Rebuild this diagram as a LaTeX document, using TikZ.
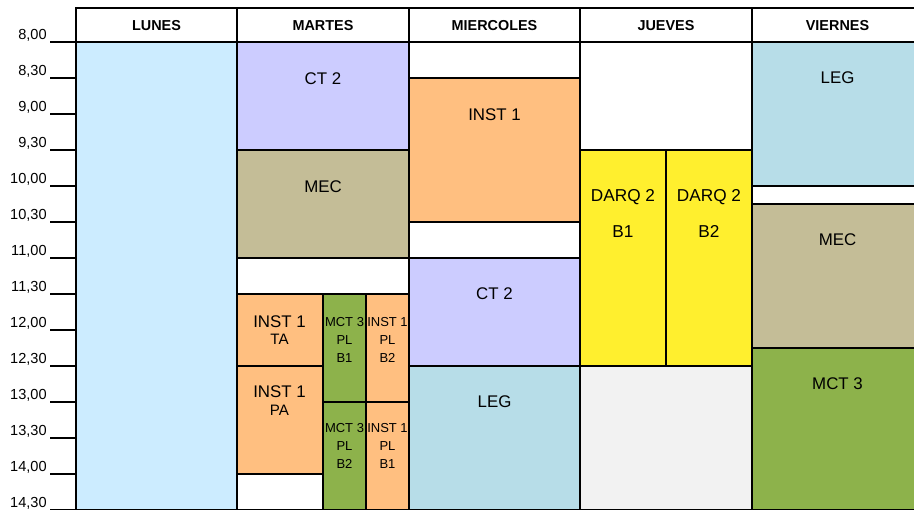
\documentclass[tikz,border=0pt]{standalone}
\usepackage{fontspec}
\setmainfont{Liberation Sans}

\definecolor{lunes}{HTML}{CCECFF}
\definecolor{lila}{HTML}{CCCCFF}
\definecolor{tostado}{HTML}{C4BD97}
\definecolor{naranja}{HTML}{FFBF80}
\definecolor{verde}{HTML}{8DB24B}
\definecolor{celeste}{HTML}{B7DDE8}
\definecolor{amarillo}{HTML}{FFEF2E}
\definecolor{gris}{HTML}{F2F2F2}

\tikzset{
  celda/.style={draw=black, line width=1.1pt},
  dia/.style={font=\bfseries\fontsize{8.2}{10}\selectfont, inner sep=0pt},
  hora/.style={font=\fontsize{8.3}{10}\selectfont, anchor=base east, inner sep=0pt},
  texto/.style={font=\fontsize{9.6}{11}\selectfont, inner sep=0pt},
  sub/.style={font=\fontsize{8.6}{10}\selectfont, inner sep=0pt},
  chico/.style={font=\fontsize{7.4}{10.2}\selectfont, align=center, inner sep=0pt},
  darq/.style={font=\fontsize{9.8}{21}\selectfont, align=center, inner sep=0pt}
}

\begin{document}
\begin{tikzpicture}[x=0.02cm, y=-0.02cm]
\useasboundingbox (0,0) rectangle (914,510);
\clip (0,0) rectangle (914,510);

% encabezado
\draw[celda] (76,8) rectangle (923,42);
\foreach \x in {237,409,580,752}
  \draw[celda] (\x,8) -- (\x,42);
\node[dia] (lun) at (156.5,26) {LUNES};
\node[dia] (mar) at (323,26) {MARTES};
\node[dia] (mie) at (494.5,26) {MIERCOLES};
\node[dia] (jue) at (666,26) {JUEVES};
\node[dia] (vie) at (837.5,26) {VIERNES};

% columnas
\draw[celda, fill=white] (76,42) rectangle (923,510);
\draw[celda, fill=lunes] (76,42) rectangle (237,510);
\foreach \x in {409,580,752}
  \draw[celda] (\x,42) -- (\x,510);

% martes
\draw[celda, fill=lila] (237,42) rectangle (409,150);
\draw[celda, fill=tostado] (237,150) rectangle (409,258);
\draw[celda, fill=naranja] (237,294) rectangle (323,366);
\draw[celda, fill=naranja] (237,366) rectangle (323,474);
\draw[celda, fill=verde] (323,294) rectangle (366,402);
\draw[celda, fill=verde] (323,402) rectangle (366,510);
\draw[celda, fill=naranja] (366,294) rectangle (409,402);
\draw[celda, fill=naranja] (366,402) rectangle (409,510);
\node[texto] (ctmar) at (323,79) {CT 2};
\node[texto] (mecmar) at (323,187) {MEC};
\node[texto] (instta) at (279.5,322) {INST 1};
\node[sub] (ta) at (279.5,339) {TA};
\node[texto] (instpa) at (279.5,392) {INST 1};
\node[sub] (pa) at (279.5,410) {PA};
\node[chico] (mctbi) at (344.5,340) {MCT 3\\PL\\B1};
\node[chico] (instbii) at (387.5,340) {INST 1\\PL\\B2};
\node[chico] (mctbii) at (344.5,446) {MCT 3\\PL\\B2};
\node[chico] (instbi) at (387.5,446) {INST 1\\PL\\B1};

% miercoles
\draw[celda, fill=naranja] (409,78) rectangle (580,222);
\draw[celda, fill=lila] (409,258) rectangle (580,366);
\draw[celda, fill=celeste] (409,366) rectangle (580,510);
\node[texto] (instmie) at (494.5,115) {INST 1};
\node[texto] (ctmie) at (494.5,294) {CT 2};
\node[texto] (legmie) at (494.5,402) {LEG};

% jueves
\draw[celda, fill=amarillo] (580,150) rectangle (666,366);
\draw[celda, fill=amarillo] (666,150) rectangle (752,366);
\draw[celda, fill=gris] (580,366) rectangle (752,510);
\node[darq] (darqbi) at (623,213.5) {DARQ 2\\B1};
\node[darq] (darqbii) at (709,213.5) {DARQ 2\\B2};

% viernes
\draw[celda, fill=celeste] (752,42) rectangle (923,186);
\draw[celda, fill=tostado] (752,204) rectangle (923,348);
\draw[celda, fill=verde] (752,348) rectangle (923,510);
\node[texto] (legvie) at (837.5,78) {LEG};
\node[texto] (mecvie) at (837.5,240) {MEC};
\node[texto] (mctvie) at (837.5,384) {MCT 3};

% horas
\foreach \h/\m [count=\k from 0] in {8/00,8/30,9/00,9/30,10/00,10/30,11/00,11/30,12/00,12/30,13/00,13/30,14/00,14/30}
{
  \node[hora] (h\k) at (47,39.5+36*\k) {\h,\m};
  \draw[celda] (50,42+36*\k) -- (76,42+36*\k);
}
\end{tikzpicture}
\end{document}
